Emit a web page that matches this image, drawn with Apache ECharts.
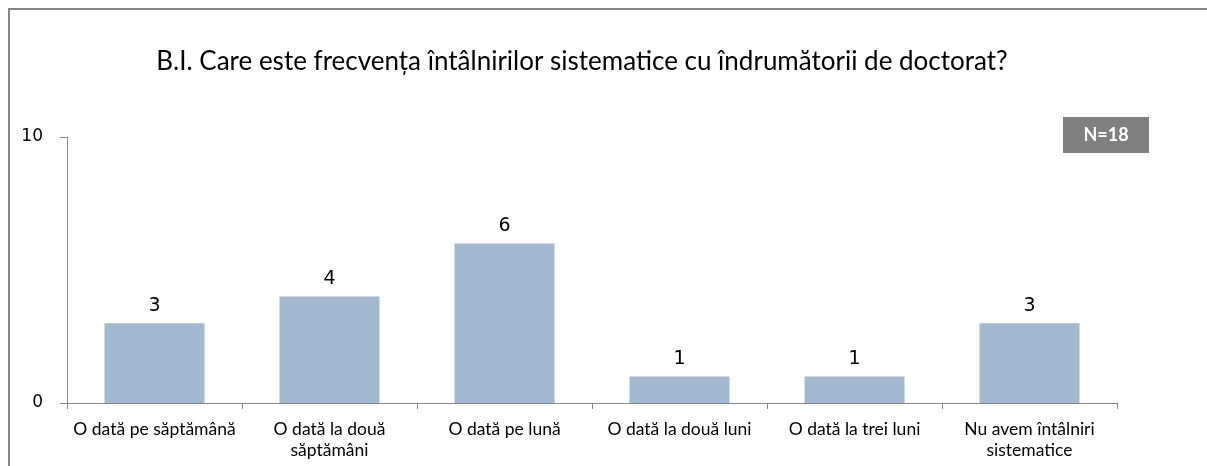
<!DOCTYPE html>
<html>
<head>
<meta charset="utf-8">
<script src="https://cdn.jsdelivr.net/npm/echarts@6/dist/echarts.min.js"></script>
<style>
  html, body { margin: 0; padding: 0; background: #fff; }
  #chart { width: 1207px; height: 466px; }
</style>
</head>
<body>
<div id="chart"></div>
<script>
// category labels, with the line breaks used on the axis
var categories = [
  'O dată pe săptămână',
  'O dată la două\nsăptămâni',
  'O dată pe lună',
  'O dată la două luni',
  'O dată la trei luni',
  'Nu avem întâlniri\nsistematice'
];
var counts = [3, 4, 6, 1, 1, 3];
var titleText = 'B.I. Care este frecvența întâlnirilor sistematice cu îndrumătorii de doctorat?';
var badgeText = 'N=18';

var chart = echarts.init(document.getElementById('chart'));

var option = {
  backgroundColor: '#fff',
  animation: false,
  title: {
    text: titleText,
    left: 577,
    top: 44,
    textAlign: 'center',
    textStyle: {
      fontFamily: 'Lato',
      fontWeight: 'normal',
      fontSize: 26,
      color: '#000'
    }
  },
  grid: {
    left: 67,
    right: 90,
    top: 137,
    bottom: 63
  },
  xAxis: {
    type: 'category',
    data: categories,
    axisLine: { lineStyle: { color: '#868686', width: 1 } },
    axisTick: { show: true, length: 6, lineStyle: { color: '#868686' } },
    axisLabel: {
      interval: 0,
      color: '#000',
      fontFamily: 'Lato',
      fontSize: 17.5,
      lineHeight: 21,
      margin: 16,
      overflow: 'none'
    }
  },
  yAxis: {
    type: 'value',
    min: 0,
    max: 10,
    interval: 10,
    splitLine: { show: false },
    axisLine: { show: true, lineStyle: { color: '#868686', width: 1 } },
    axisTick: { show: true, length: 7, lineStyle: { color: '#868686' } },
    axisLabel: {
      color: '#000',
      fontFamily: 'DejaVu Sans',
      fontSize: 17,
      margin: 24
    }
  },
  series: [
    {
      type: 'bar',
      data: counts,
      barWidth: 100,
      itemStyle: { color: '#A2B8CF' },
      label: {
        show: true,
        position: 'top',
        distance: 8,
        color: '#000',
        fontFamily: 'DejaVu Sans',
        fontSize: 19
      }
    }
  ],
  graphic: [
    {
      type: 'rect',
      shape: { x: 9, y: 9, width: 1230, height: 480 },
      style: { fill: 'none', stroke: '#868686', lineWidth: 2 },
      silent: true
    },
    {
      type: 'rect',
      shape: { x: 1063, y: 117, width: 86, height: 36 },
      style: { fill: '#808080' },
      silent: true
    },
    {
      type: 'text',
      x: 1106,
      y: 135,
      style: {
        text: badgeText,
        fill: '#fff',
        font: 'bold 18px Lato',
        textAlign: 'center',
        textVerticalAlign: 'middle'
      },
      silent: true
    }
  ]
};

chart.setOption(option);
</script>
</body>
</html>
